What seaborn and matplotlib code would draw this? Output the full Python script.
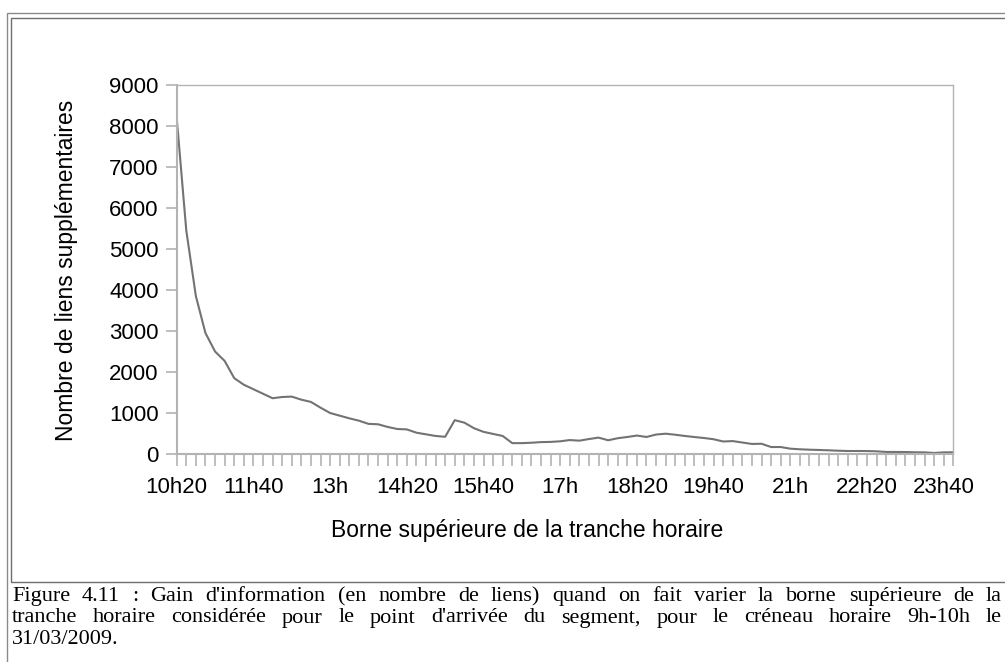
import matplotlib
matplotlib.use("Agg")
import matplotlib.pyplot as plt
from matplotlib.patches import Rectangle
import seaborn as sns
import pandas as pd

# Upper bound of the time window, in minutes after midnight (10h20 -> 23h50, step 10 min)
start_minutes = 620
step_minutes = 10

# Additional links gained for each upper bound
extra_links = [
    8200, 5450, 3850, 2950, 2500, 2270, 1850, 1690, 1580, 1470,
    1360, 1390, 1400, 1325, 1270, 1130, 1000, 935, 870, 813,
    735, 725, 660, 610, 600, 520, 480, 440, 420, 825,
    765, 630, 540, 490, 440, 265, 265, 275, 290, 295,
    310, 340, 325, 365, 400, 335, 385, 415, 450, 415,
    475, 495, 470, 440, 414, 390, 360, 305, 315, 280,
    245, 250, 170, 170, 130, 115, 105, 98, 90, 80,
    73, 73, 72, 65, 50, 50, 48, 42, 40, 25,
    40, 42,
]

xtick_labels = ["10h20", "11h40", "13h", "14h20", "15h40", "17h",
                "18h20", "19h40", "21h", "22h20", "23h40"]
label_every = 8
yticks = [0, 1000, 2000, 3000, 4000, 5000, 6000, 7000, 8000, 9000]

x_title = "Borne supérieure de la tranche horaire"
y_title = "Nombre de liens supplémentaires"
caption_lines = [
    "Figure 4.11 : Gain d'information (en  nombre de liens) quand on fait varier la borne supérieure de la",
    "tranche horaire considérée pour le point d'arrivée du segment, pour le créneau horaire 9h-10h le",
    "31/03/2009.",
]

minutes = [start_minutes + i * step_minutes for i in range(len(extra_links))]
df = pd.DataFrame({"minutes": minutes, "links": extra_links})

sns.set_theme(style="white")
plt.rcParams["font.family"] = ["Liberation Sans", "DejaVu Sans"]

W, H = 1005, 662
fig = plt.figure(figsize=(W / 100, H / 100), dpi=100)
fig.patch.set_facecolor("white")

def fx(px):
    return px / W

def fy(py):
    return 1 - py / H

# Plot area
left, right, top, bottom = 176.7, 953.3, 85, 454
ax = fig.add_axes([fx(left), fy(bottom), fx(right) - fx(left), fy(top) - fy(bottom)])

sns.lineplot(data=df, x="minutes", y="links", ax=ax, color="#737373", linewidth=1.5)

axis_grey = "#b3b3b3"
ax.set_xlim(minutes[0], minutes[-1])
ax.set_ylim(yticks[0], yticks[-1])
ax.set_yticks(yticks)
ax.set_yticklabels([str(v) for v in yticks])

ax.set_xticks(minutes)
labels = [""] * len(minutes)
for k, lab in enumerate(xtick_labels):
    labels[k * label_every] = lab
ax.set_xticklabels(labels)

ax.tick_params(axis="x", direction="out", length=8.5, width=1.2, color=axis_grey,
               pad=8, labelsize=16, labelcolor="black", bottom=True)
ax.tick_params(axis="y", direction="out", length=8, width=1.2, color=axis_grey,
               pad=5, labelsize=16, labelcolor="black", left=True)

for side in ["left", "bottom"]:
    ax.spines[side].set_color(axis_grey)
    ax.spines[side].set_linewidth(1.5)
for side in ["top", "right"]:
    ax.spines[side].set_color(axis_grey)
    ax.spines[side].set_linewidth(1.0)
ax.grid(False)
ax.set_xlabel("")
ax.set_ylabel("")

fig.text(fx(527), fy(531), x_title, ha="center", va="center", fontsize=16.5, color="black")
fig.text(fx(67), fy(270), y_title, ha="center", va="center", rotation=90,
         fontsize=16.5, color="black")

# Double frame around the chart
frame_col = "#6e6e6e"
fig.add_artist(Rectangle((fx(6.5), fy(700)), fx(1100), fy(13.5) - fy(700),
                         transform=fig.transFigure, fill=False,
                         edgecolor="#8a8a8a", linewidth=1.0, clip_on=False))
fig.add_artist(Rectangle((fx(10.5), fy(582)), fx(1100), fy(17.5) - fy(582),
                         transform=fig.transFigure, fill=False,
                         edgecolor=frame_col, linewidth=1.0, clip_on=False))

# Justified caption below the chart
cap_font = dict(family=["Liberation Serif", "DejaVu Serif"], size=16, color="black")
renderer = fig.canvas.get_renderer()

def justified(line, baseline_px, x0, x1):
    words = line.split()
    widths = []
    for w in words:
        t = fig.text(0, 0, w, **cap_font)
        widths.append(t.get_window_extent(renderer).width)
        t.remove()
    gap = (x1 - x0 - sum(widths)) / (len(words) - 1)
    x = x0
    for w, wd in zip(words, widths):
        fig.text(fx(x), fy(baseline_px), w, ha="left", va="baseline", **cap_font)
        x += wd + gap

justified(caption_lines[0], 601, 12, 1002)
justified(caption_lines[1], 622.5, 12, 1002)
fig.text(fx(12), fy(644), caption_lines[2], ha="left", va="baseline", **cap_font)

fig.savefig("out.png", dpi=100)
